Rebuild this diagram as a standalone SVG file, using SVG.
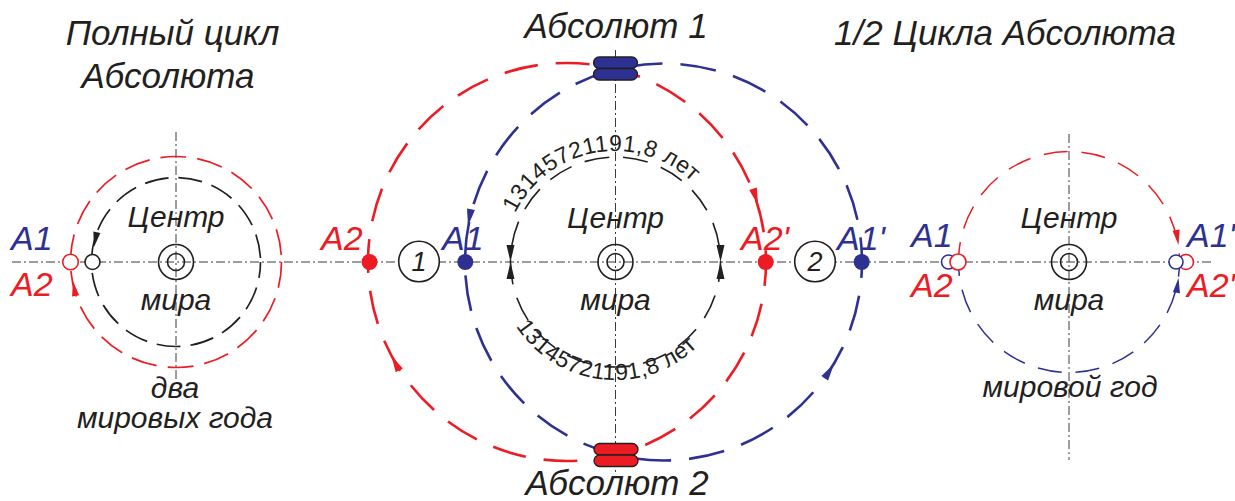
<svg xmlns="http://www.w3.org/2000/svg" xmlns:xlink="http://www.w3.org/1999/xlink" width="1235" height="501" viewBox="0 0 1235 501">
  <style>
    .axis{fill:none;stroke:#3a3a3a;stroke-width:1;stroke-dasharray:9 3 2 3}
    .orbit{fill:none}
    .red-s{stroke:#ed1c24}
    .blue-s{stroke:#2e3192}
    .blk-s{stroke:#231f20}
    .red-f{fill:#ed1c24}
    .blue-f{fill:#2e3192}
    .blk-f{fill:#231f20}
    .ring{fill:#fff;stroke-width:1.6}
    .target{fill:none;stroke:#231f20;stroke-width:1.6}
    .lbl{font-family:"Liberation Sans",Arial,sans-serif;font-style:italic}
    .title{font-size:35px;fill:#231f20}
    .word{font-size:30px;fill:#231f20;text-anchor:middle}
    .pt{font-size:34px}
    .num{font-size:27px;fill:#231f20;text-anchor:middle}
    .arc{font-family:"Liberation Sans",Arial,sans-serif;font-size:23px;fill:#231f20;letter-spacing:0.5px}
    .block{stroke:#231f20;stroke-width:1.3}
  </style>
  <defs>
    <path id="head" d="M0,0 L-15,-3.6 L-15,3.6 Z"/>
    <path id="head-l" d="M0,0 L-17,-4 L-17,4 Z"/>
    <path id="arcTop" d="M515.2,213.3 A111,111 0 0 1 719.3,224"/>
    <path id="arcBottom" d="M516,326.3 A118,118 0 0 0 725.9,302.4"/>
    <g id="capsule">
      <rect x="-22" y="-11.5" width="44" height="11.5" rx="5.7"/>
      <rect x="-22" y="0" width="44" height="11.5" rx="5.7"/>
    </g>
  </defs>

  <!-- axes -->
  <g id="axes">
    <line class="axis" x1="12" y1="262" x2="1214" y2="262"/>
    <line class="axis" x1="176" y1="132" x2="176" y2="382"/>
    <line class="axis" x1="615.5" y1="50" x2="615.5" y2="472"/>
    <line class="axis" x1="1069" y1="134" x2="1069" y2="460"/>
  </g>

  <!-- orbits and arrowheads -->
  <g id="connectors">
    <!-- full cycle -->
    <circle class="orbit red-s" cx="176" cy="262" r="105.5" stroke-width="1.7" stroke-dasharray="26 11"/>
    <circle class="orbit blk-s" cx="176" cy="262" r="84.5" stroke-width="1.7" stroke-dasharray="24 10" stroke-dashoffset="8"/>
    <use href="#head" class="blk-f" transform="translate(94,247) rotate(101)"/>
    <use href="#head" class="red-f" transform="translate(73,281) rotate(-100)"/>

    <!-- two absolutes -->
    <circle class="orbit red-s" cx="567" cy="262" r="199" stroke-width="2.6" stroke-dasharray="34 18" stroke-dashoffset="10"/>
    <circle class="orbit blue-s" cx="663.5" cy="262" r="198.5" stroke-width="2.6" stroke-dasharray="36 18" stroke-dashoffset="20"/>
    <circle class="orbit blk-s" cx="615.5" cy="262" r="105" stroke-width="1.6" stroke-dasharray="25 14" stroke-dashoffset="5"/>
    <use href="#head-l" class="red-f" transform="translate(758,205) rotate(73)"/>
    <use href="#head-l" class="red-f" transform="translate(391.3,355.4) rotate(-118)"/>
    <use href="#head-l" class="blue-f" transform="translate(468,226) rotate(100)"/>
    <use href="#head-l" class="blue-f" transform="translate(834,364) rotate(-57)"/>
    <use href="#head-l" class="blk-f" transform="translate(510.5,262) rotate(90)"/>
    <use href="#head-l" class="blk-f" transform="translate(510.5,262) rotate(-90)"/>
    <use href="#head-l" class="blk-f" transform="translate(720.5,262) rotate(90)"/>
    <use href="#head-l" class="blk-f" transform="translate(720.5,262) rotate(-90)"/>

    <!-- half cycle -->
    <path class="orbit red-s" d="M958.5,262 A110.5,110.5 0 0 1 1179.5,262" stroke-width="1.5" stroke-dasharray="24 14" stroke-dashoffset="4"/>
    <path class="orbit blue-s" d="M958.5,262 A110.5,110.5 0 0 0 1179.5,262" stroke-width="1.5" stroke-dasharray="24 14" stroke-dashoffset="10"/>
    <use href="#head" class="red-f" transform="translate(1178.5,245) rotate(81)"/>
    <use href="#head" class="blue-f" transform="translate(1178.5,278) rotate(-82)"/>
  </g>

  <!-- full cycle of the Absolute -->
  <g id="full-cycle">
    <text class="lbl title" x="172.5" y="45" text-anchor="middle" font-size="36">Полный цикл</text>
    <text class="lbl title" x="168" y="88" text-anchor="middle">Абсолюта</text>
    <circle class="target" cx="176" cy="262" r="17.5"/>
    <circle class="target" cx="176" cy="262" r="8.5"/>
    <circle class="ring red-s" cx="70.5" cy="262" r="7.8"/>
    <circle class="ring blk-s" cx="92.5" cy="262" r="7.5"/>
    <text class="lbl pt blue-f" x="11" y="250">A1</text>
    <text class="lbl pt red-f" x="11" y="296">A2</text>
    <text class="lbl word" x="176" y="227">Центр</text>
    <text class="lbl word" x="176" y="310">мира</text>
    <text class="lbl word" x="175" y="398">два</text>
    <text class="lbl word" x="175" y="428" font-size="31">мировых года</text>
  </g>

  <!-- Absolute 1 -->
  <g id="absolute-1">
    <text class="lbl title" x="616" y="38" text-anchor="middle">Абсолют 1</text>
    <use href="#capsule" class="blue-f block" transform="translate(615.5,68.5)"/>
  </g>

  <!-- Absolute 2 -->
  <g id="absolute-2">
    <use href="#capsule" class="red-f block" transform="translate(616,455)"/>
    <text class="lbl title" x="617" y="495" text-anchor="middle">Абсолют 2</text>
  </g>

  <!-- world centre of the two-absolute scheme -->
  <g id="centre">
    <circle class="target" cx="615.5" cy="262" r="17.5"/>
    <circle class="target" cx="615.5" cy="262" r="8.5"/>
    <text class="lbl word" x="615.5" y="228">Центр</text>
    <text class="lbl word" x="615.5" y="310">мира</text>
    <text class="arc"><textPath href="#arcTop">13145721191,8 лет</textPath></text>
    <text class="arc"><textPath href="#arcBottom">13145721191,8 лет</textPath></text>
  </g>

  <!-- positions A1, A2, A1', A2' -->
  <g id="points">
    <circle class="red-f" cx="369.5" cy="262" r="8"/>
    <circle class="blue-f" cx="465.3" cy="262" r="8"/>
    <circle class="red-f" cx="765.7" cy="262" r="8"/>
    <circle class="blue-f" cx="861.7" cy="262" r="8"/>
    <text class="lbl pt red-f" x="321" y="250">A2</text>
    <text class="lbl pt blue-f" x="442" y="250">A1</text>
    <text class="lbl pt red-f" x="741" y="250">A2'</text>
    <text class="lbl pt blue-f" x="837" y="250">A1'</text>
  </g>

  <!-- phase markers -->
  <g id="phase-1">
    <circle class="ring blk-s" cx="419" cy="261.5" r="20.3"/>
    <text class="lbl num" x="419" y="271">1</text>
  </g>
  <g id="phase-2">
    <circle class="ring blk-s" cx="815" cy="261.5" r="20.3"/>
    <text class="lbl num" x="815" y="271">2</text>
  </g>

  <!-- half cycle of the Absolute -->
  <g id="half-cycle">
    <text class="lbl title" x="1005" y="45" text-anchor="middle">1/2 Цикла Абсолюта</text>
    <circle class="target" cx="1069" cy="262" r="17.5"/>
    <circle class="target" cx="1069" cy="262" r="8.5"/>
    <circle class="ring blue-s" cx="948.5" cy="262" r="7"/>
    <circle class="ring red-s" cx="958" cy="262" r="8"/>
    <circle class="ring red-s" cx="1186" cy="262" r="7.5"/>
    <circle class="ring blue-s" cx="1176" cy="262" r="7"/>
    <text class="lbl pt blue-f" x="911" y="247">A1</text>
    <text class="lbl pt red-f" x="911" y="297">A2</text>
    <text class="lbl pt blue-f" x="1187" y="247">A1'</text>
    <text class="lbl pt red-f" x="1187" y="297">A2'</text>
    <text class="lbl word" x="1069" y="228">Центр</text>
    <text class="lbl word" x="1069" y="310">мира</text>
    <text class="lbl word" x="1070" y="397">мировой год</text>
  </g>
</svg>
